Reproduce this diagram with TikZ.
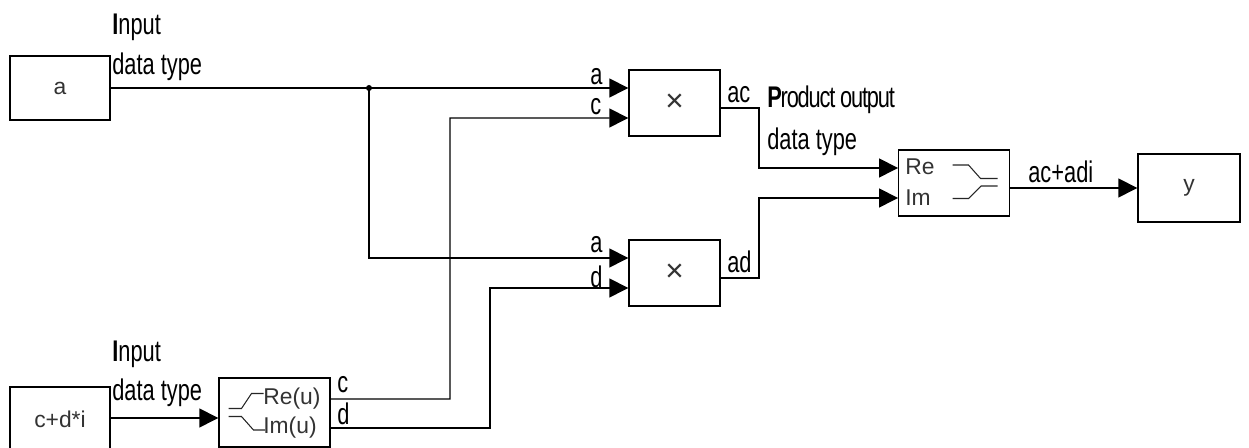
\documentclass[tikz,border=0pt]{standalone}
\usepackage{fontspec}
\setmainfont{Liberation Sans}
\newfontfamily\sigfont[FakeStretch=0.73]{Liberation Sans}
\usetikzlibrary{arrows.meta,calc}
\tikzset{
  blockbox/.style={
    draw=black,
    line width=0.8pt,
    fill=white,
    inner sep=0pt,
    text=black!80,
    font=\fontsize{13}{15}\selectfont
  },
  srcbox/.style={blockbox, minimum width=2cm, minimum height=1.28cm},
  mulbox/.style={blockbox, minimum width=1.82cm, minimum height=1.32cm, font=\fontsize{18}{20}\selectfont},
  portlabel/.style={font=\fontsize{13}{15}\selectfont, text=black!80, inner sep=0pt, anchor=west},
  siglabel/.style={font=\sigfont\fontsize{17}{20}\selectfont, text=black, inner sep=0pt, anchor=base west},
  notelabel/.style={siglabel, align=left, anchor=south west},
  sigarrow/.style={-{Triangle[length=0.38cm,width=0.38cm]}, line width=0.8pt, draw=black},
  iconline/.style={line width=0.6pt, draw=black!85}
}
\begin{document}
\begin{tikzpicture}
  \useasboundingbox (0,0) rectangle (24.98,8.96);

  \node[srcbox] (a) at (1.2,7.2) {a};
  \node[srcbox] (cdi) at (1.2,0.58) {c+d*i};
  \node[blockbox, minimum width=2.22cm, minimum height=1.38cm] (split) at (5.49,0.71) {};
  \node[mulbox] (mula) at (13.49,6.9) {×};
  \node[mulbox] (mulb) at (13.49,3.5) {×};
  \node[blockbox, minimum width=2.21cm, minimum height=1.32cm] (join) at (19.08,5.3) {};
  \node[blockbox, minimum width=2.04cm, minimum height=1.36cm] (y) at (23.78,5.2) {y};

  \coordinate (mulain) at ($(mula.west)+(0,-0.3)$);
  \coordinate (mulbina) at ($(mulb.west)+(0,0.3)$);
  \coordinate (mulbinb) at ($(mulb.west)+(0,-0.3)$);
  \coordinate (mulaout) at ($(mula.east)+(0,-0.1)$);
  \coordinate (mulbout) at ($(mulb.east)+(0,-0.1)$);
  \coordinate (joinre) at ($(join.west)+(0,0.3)$);
  \coordinate (joinim) at ($(join.west)+(0,-0.3)$);
  \coordinate (joinout) at ($(join.east)+(0,-0.1)$);
  \coordinate (splitin) at ($(split.west)+(0,-0.11)$);
  \coordinate (splitre) at ($(split.east)+(0,0.27)$);
  \coordinate (splitim) at ($(split.east)+(0,-0.31)$);

  \node[circle, fill=black, inner sep=0pt, minimum size=0.12cm] (junc) at (7.38,7.2) {};

  \draw[sigarrow] (a.east) -- (mula.west |- a.east);
  \draw[sigarrow] (junc.center) |- (mulbina);
  \draw[sigarrow] (splitre) -| (9.0,6.6) -- (mulain);
  \draw[sigarrow] (splitim) -| (9.8,3.2) -- (mulbinb);
  \draw[sigarrow] (cdi.east |- splitin) -- (splitin);
  \draw[sigarrow] (mulaout) -| (15.18,5.6) -- (joinre);
  \draw[sigarrow] (mulbout) -| (15.18,5.0) -- (joinim);
  \draw[sigarrow] (joinout) -- (y.west |- joinout);

  \node[portlabel] (splitrelabel) at (5.26,0.99) {Re(u)};
  \node[portlabel] (splitimlabel) at (5.26,0.4) {Im(u)};
  \node[portlabel] (joinrelabel) at (18.1,5.62) {Re};
  \node[portlabel] (joinimlabel) at (18.1,5.0) {Im};

  \draw[iconline] (4.57,0.79) -- (4.83,0.79) -- (5.03,1.09) -- (5.27,1.09);
  \draw[iconline] (4.57,0.63) -- (4.83,0.63) -- (5.07,0.36) -- (5.3,0.36);
  \draw[iconline] (19.05,5.66) -- (19.37,5.66) -- (19.61,5.39) -- (19.95,5.39);
  \draw[iconline] (19.05,4.99) -- (19.37,4.99) -- (19.62,5.24) -- (19.95,5.24);

  \node[notelabel] (inputa) at (2.24,7.34) {\textbf{I}nput\\[3pt]data type};
  \node[notelabel] (inputb) at (2.24,0.82) {\textbf{I}nput\\[2pt]data type};
  \node[notelabel] (prodout) at (15.34,5.84) {{\addfontfeature{LetterSpace=-4}\textbf{P}roduct output}\\[4pt]data type};

  \node[siglabel] (laba) at (11.8,7.26) {a};
  \node[siglabel] (labc) at (11.8,6.66) {c};
  \node[siglabel] (labb) at (11.8,3.9) {a};
  \node[siglabel] (labd) at (11.8,3.2) {d};
  \node[siglabel] (labac) at (14.54,6.9) {ac};
  \node[siglabel] (labad) at (14.54,3.5) {ad};
  \node[siglabel] (labsum) at (20.56,5.3) {ac+adi};
  \node[siglabel] (labsc) at (6.74,1.1) {c};
  \node[siglabel] (labsd) at (6.74,0.46) {d};
\end{tikzpicture}
\end{document}
